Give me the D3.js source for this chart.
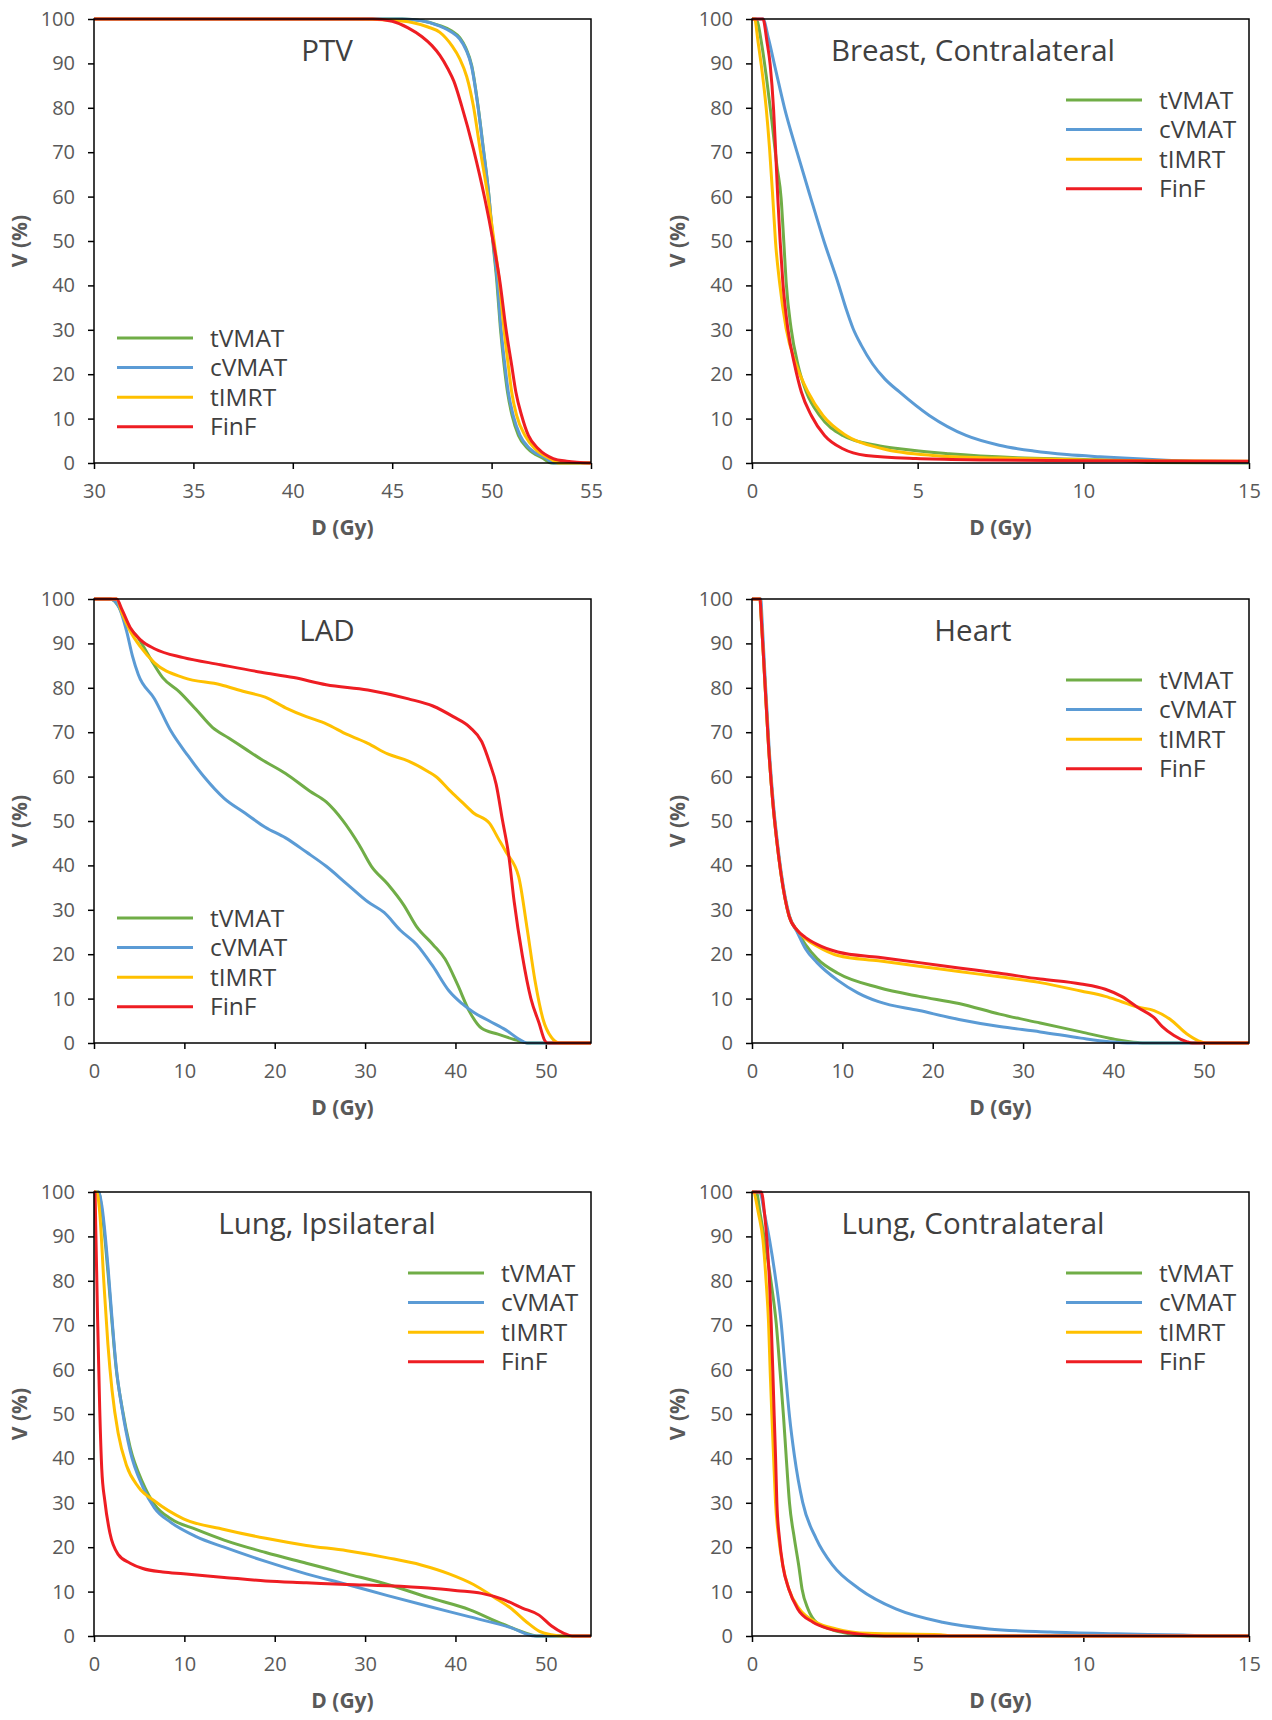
<!DOCTYPE html>
<html>
<head>
<meta charset="utf-8">
<script src="https://cdn.jsdelivr.net/npm/d3@7"></script>
<style>
  body { margin: 0; background: #fff; }
  svg { display: block; font-family: "Open Sans", sans-serif; }
</style>
</head>
<body>
<svg id="chart" width="1272" height="1720"></svg>
<script>
// series names + colours (excel defaults)
const seriesNames = ['tVMAT', 'cVMAT', 'tIMRT', 'FinF'];
const seriesColors = ['#70ad47', '#5b9bd5', '#ffc000', '#ee1d23'];

const yTicks = [0, 10, 20, 30, 40, 50, 60, 70, 80, 90, 100];
const xTicksPTV = [30, 35, 40, 45, 50, 55];
const xTicksWide = [0, 10, 20, 30, 40, 50];
const xTicksNarrow = [0, 5, 10, 15];

// DVH points: [dose Gy, volume %]
const ptvTVMAT = [[30,100],[45.5,100],[46.5,99.6],[47.4,98.5],[48.0,97.3],[48.4,95.8],[48.7,93.5],[49.0,89.5],[49.33,80],[49.58,71],[49.87,60],[50.06,50],[50.26,41],[50.44,30.5],[50.63,22],[50.8,16],[51.03,10.7],[51.35,6.2],[51.83,3.2],[52.6,1],[53,0],[55,0]];
const ptvCVMAT = [[30,100],[45.5,100],[46.5,99.6],[47.4,98.4],[48.0,97],[48.4,95.5],[48.72,93],[48.99,89.4],[49.33,79.8],[49.58,70.8],[49.88,59.5],[50.08,49.8],[50.29,40.8],[50.47,30.3],[50.67,22],[50.84,16],[51.09,10.7],[51.43,6.2],[51.93,3.2],[52.77,1],[53.1,0],[55,0]];
const ptvTIMRT = [[30,100],[43,100],[45,99.7],[46,99.2],[46.8,98.2],[47.4,97],[48.0,94],[48.4,91],[48.75,87],[49.08,80.5],[49.41,71],[49.83,59.5],[50.13,49.8],[50.39,40.8],[50.62,30.3],[50.84,22],[51.01,16],[51.26,10.7],[51.68,6.2],[52.18,3.2],[52.94,1],[53.4,0],[55,0]];
const ptvFinF = [[30,100],[44,100],[45,99.5],[45.8,98],[46.5,96],[47.0,94],[47.4,91.8],[47.8,88.8],[48.1,86],[48.49,80.5],[49.08,70.8],[49.66,59.5],[50.08,49.8],[50.42,40.8],[50.72,30.3],[51.01,22],[51.22,16],[51.51,10.7],[51.85,6.2],[52.35,3.2],[53.1,1],[53.78,0.4],[55,0]];

const breastTVMAT = [[0,100],[0.12,100],[0.3,94],[0.45,86],[0.6,77],[0.75,67],[0.88,59.5],[0.96,49.8],[1.03,40.8],[1.18,30.3],[1.39,22],[1.64,16],[2.04,10.7],[2.74,6.2],[3.75,4],[4.45,3.2],[5.95,2.1],[8,1.2],[10,0.8],[11.5,0.4],[12,0.1],[15,0]];
const breastCVMAT = [[0,100],[0.33,100],[0.5,95.5],[0.7,89],[0.98,80],[1.36,70],[1.76,60],[2.17,50],[2.6,40.5],[2.85,34.5],[3.05,30.3],[3.3,26.5],[3.64,22.3],[4.0,19],[4.45,16],[5.35,10.7],[6.46,6.2],[7.46,4],[8.5,2.7],[9.5,1.9],[10.5,1.4],[11.5,1],[12.5,0.6],[13.5,0.3],[15,0.1]];
const breastTIMRT = [[0,100],[0.08,100],[0.18,95],[0.28,89.6],[0.43,79.8],[0.53,70.8],[0.63,59.5],[0.71,49.8],[0.83,40.8],[1.03,30.3],[1.34,22],[1.69,16],[2.14,10.7],[2.84,6.2],[3.95,3.2],[5.45,1.7],[7.5,1.1],[10,0.7],[12,0.5],[15,0.4]];
const breastFinF = [[0,100],[0.33,100],[0.45,95],[0.55,89.6],[0.65,79.8],[0.71,70.8],[0.78,59.5],[0.85,49.8],[0.93,40.8],[1.08,30.3],[1.29,22],[1.49,16],[1.79,10.7],[2.19,6.2],[2.74,3.2],[3.44,1.7],[4.95,1],[7,0.7],[10,0.5],[15,0.4]];

const ladTVMAT = [[0,100],[1.8,100],[2.7,98.4],[3.6,94.4],[4.9,91.2],[6.3,86.4],[7.6,82.3],[9.45,79.1],[11.3,75.1],[13.1,71.1],[14.9,68.7],[16.7,66.3],[18.5,63.9],[21.2,60.7],[23.9,56.7],[25.7,54.3],[27.5,50.2],[29.35,44.6],[30.7,39.8],[32.5,35.8],[34.3,31],[35.7,26.2],[37.5,22.2],[38.85,18.9],[40.2,13.3],[41.6,6.9],[42.9,3.3],[44.7,2],[46.5,0.8],[47.5,0.2],[48,0],[55,0]];
const ladCVMAT = [[0,100],[1.8,100],[2.7,98.4],[3.6,92.8],[4.25,87.2],[4.9,83],[6.7,77.5],[8.5,70.3],[10.4,64.7],[12.2,59.9],[14.4,55.1],[16.7,51.8],[18.95,48.6],[21.2,46.2],[23.5,43],[25.7,39.8],[28,35.8],[30.3,31.8],[32.1,29.4],[33.9,25.4],[35.7,22.2],[37.5,17.3],[39.3,11.7],[40.7,8.9],[42,6.9],[43.8,4.9],[45.6,2.9],[47,0.9],[47.9,0],[55,0]];
const ladTIMRT = [[0,100],[2.5,100],[3.1,96.8],[4,92.8],[5.15,89.2],[6.7,85.6],[9.9,82.3],[14,80.7],[16.7,79.1],[18.95,77.9],[21.2,75.5],[23.5,73.5],[25.7,71.9],[28,69.5],[30.3,67.5],[32.5,65.1],[34.8,63.5],[37,61.1],[37.9,59.9],[39.3,57],[40.7,54.3],[42,51.8],[43.8,49.4],[44.7,46.2],[45.6,43],[47,37.4],[47.9,26.2],[48.8,14.1],[49.7,5.3],[50.6,1.3],[51.5,0],[55,0]];
const ladFinF = [[0,100],[2.5,100],[3.1,97.6],[4,93.6],[5.15,90.8],[6.7,88.8],[9.9,86.8],[14,85.2],[18.5,83.5],[22.1,82.3],[25.7,80.7],[30.3,79.5],[34.8,77.5],[37.5,75.9],[39.75,73.5],[41.6,71.1],[42.9,67.9],[43.8,63],[44.5,58.3],[45.2,50.2],[45.9,42.2],[46.5,31.8],[47.4,19.7],[48.35,10],[49.25,4.5],[49.9,0.5],[50.2,0],[55,0]];

const heartTVMAT = [[0,100],[0.9,100],[0.95,98.4],[1.4,82.3],[1.85,66.3],[2.3,54.3],[2.75,45.4],[3.2,38.2],[3.65,32.6],[4.1,28.6],[5.0,25.2],[5.9,22.2],[7.2,19],[9.5,15.7],[14,12.5],[18.5,10.5],[22.9,8.9],[27.4,6.5],[31.9,4.5],[36.4,2.5],[40,0.9],[42.7,0.1],[43.5,0],[55,0]];
const heartCVMAT = [[0,100],[1.0,100],[1.05,98],[1.45,82.3],[1.9,66.3],[2.35,54.3],[2.8,45.4],[3.25,38.2],[3.7,32.6],[4.15,28.6],[5.0,25],[5.9,21.3],[7.2,18.1],[9.5,14.1],[11.7,11.3],[14,9.3],[18.5,7.3],[22.9,5.3],[27.4,3.7],[31.9,2.5],[36.4,1.1],[39.5,0.3],[42,0],[55,0]];
const heartTIMRT = [[0,100],[0.9,100],[0.95,98.4],[1.4,82.3],[1.85,66.3],[2.3,54.3],[2.75,45.4],[3.2,38.2],[3.65,32.6],[4.1,28.6],[5.0,25.4],[5.9,23.5],[7.2,21.8],[9.5,19.7],[14,18.5],[18.5,17.3],[22.9,16.1],[27.4,14.9],[31.9,13.6],[36.4,11.7],[39.1,10.5],[40.9,9.3],[42.7,8.1],[44.5,7.3],[46.3,5.3],[48.1,2.1],[49.4,0.5],[50.2,0],[55,0]];
const heartFinF = [[0,100],[0.9,100],[0.95,98.4],[1.4,82.3],[1.85,66.3],[2.3,54.3],[2.75,45.4],[3.2,38.2],[3.65,32.6],[4.1,28.6],[5.0,25.4],[5.9,23.8],[7.2,22.2],[9.5,20.5],[14,19.3],[18.5,18.1],[22.9,16.9],[27.4,15.7],[31.9,14.4],[36.4,13.3],[39.1,12.1],[40.9,10.5],[42.7,8],[44.5,5.7],[45.4,3.7],[46.7,1.7],[48.1,0.3],[48.7,0],[55,0]];

const lungIpsiTVMAT = [[0,100],[0.5,100],[0.86,96],[1.54,82],[2,70.5],[2.44,60.5],[3.1,51.5],[4.0,42.5],[5.4,34.5],[6.7,29.6],[8.5,26.4],[11.3,24],[14.4,21.6],[19,18.8],[23.5,16.4],[28,14],[32.5,11.6],[37,8.7],[41.6,5.9],[45.2,2.7],[48.35,0.3],[49,0],[55,0]];
const lungIpsiCVMAT = [[0,100],[0.5,100],[0.86,97],[1.54,83.4],[2,71.3],[2.44,60.9],[3.1,51.3],[4.0,41.7],[5.4,33.6],[6.7,28.8],[8.5,25.6],[11.3,22.4],[14.4,20],[19,16.8],[23.5,14],[28,11.6],[32.5,9.1],[37,6.7],[41.6,4.3],[46.1,1.9],[48.8,0],[55,0]];
const lungIpsiTIMRT = [[0,100],[0.3,100],[0.63,95.4],[1.1,79.4],[1.54,65.7],[2,55.3],[2.67,45.7],[3.6,38.4],[4.9,33.6],[6.7,30.4],[9.9,26.4],[14.4,24],[19,22],[23.5,20.4],[28,19.2],[32.5,17.6],[36.2,16],[39.3,14],[42,11.6],[44.3,8.7],[46.1,6.3],[47.9,3.1],[49.25,1.1],[50.6,0.3],[52,0],[55,0]];
const lungIpsiFinF = [[0,100],[0.1,100],[0.2,91.4],[0.4,71.3],[0.63,51.3],[0.86,37.6],[1.2,30.4],[1.76,23.2],[2.67,18.4],[4.0,16.4],[5.4,15.2],[7.6,14.4],[9.9,14],[14.4,13.2],[19,12.4],[23.5,12],[28,11.6],[32.5,11.3],[37,10.8],[40.2,10.2],[42.9,9.6],[45.2,8.3],[47.4,6.3],[49.25,4.7],[50.6,2.3],[52,0.6],[52.9,0],[55,0]];

const lungContraTVMAT = [[0,100],[0.13,100],[0.25,95],[0.38,89.2],[0.58,79.5],[0.73,70.5],[0.85,59.3],[0.95,49.6],[1.03,40.6],[1.13,30.1],[1.28,21.9],[1.41,15.9],[1.51,10.6],[1.69,6.1],[1.94,3.1],[2.34,1.6],[2.94,0.5],[3.5,0],[15,0]];
const lungContraCVMAT = [[0,100],[0.23,100],[0.38,95],[0.53,89.2],[0.73,79.5],[0.88,70.5],[1.01,59.3],[1.13,49.6],[1.28,40.6],[1.53,30.1],[1.94,21.9],[2.44,15.9],[3.24,10.6],[4.34,6.1],[5.75,3.1],[7.15,1.6],[9,0.9],[11,0.5],[13,0.2],[14,0],[15,0]];
const lungContraTIMRT = [[0,100],[0.03,100],[0.2,95],[0.33,89.2],[0.43,79.5],[0.5,70.5],[0.55,59.3],[0.6,49.6],[0.65,40.6],[0.71,30.1],[0.81,21.9],[0.93,15.9],[1.11,10.6],[1.43,6.1],[1.94,3.1],[2.54,1.6],[3.5,0.6],[5.7,0.3],[6,0],[15,0]];
const lungContraFinF = [[0,100],[0.28,100],[0.38,95],[0.45,89.2],[0.53,79.5],[0.58,70.5],[0.63,59.3],[0.67,49.6],[0.71,40.6],[0.75,30.1],[0.83,21.9],[0.93,15.9],[1.11,10.6],[1.38,6.1],[1.84,3.1],[2.34,1.6],[3.14,0.5],[4,0],[15,0]];

const svg = d3.select('#chart');
const plotW = 497, plotH = 444;

const panels = [
  { title: 'PTV', left: 94, top: 19, xDomain: [30, 55], xTicks: xTicksPTV, titleDx: 233, legend: 'bottomLeft',
    series: [ptvTVMAT, ptvCVMAT, ptvTIMRT, ptvFinF] },
  { title: 'Breast, Contralateral', left: 752, top: 19, xDomain: [0, 15], xTicks: xTicksNarrow, titleDx: 221, legend: 'topRight',
    series: [breastTVMAT, breastCVMAT, breastTIMRT, breastFinF] },
  { title: 'LAD', left: 94, top: 599, xDomain: [0, 55], xTicks: xTicksWide, titleDx: 233, legend: 'bottomLeft',
    series: [ladTVMAT, ladCVMAT, ladTIMRT, ladFinF] },
  { title: 'Heart', left: 752, top: 599, xDomain: [0, 55], xTicks: xTicksWide, titleDx: 221, legend: 'topRight',
    series: [heartTVMAT, heartCVMAT, heartTIMRT, heartFinF] },
  { title: 'Lung, Ipsilateral', left: 94, top: 1192, xDomain: [0, 55], xTicks: xTicksWide, titleDx: 233, legend: 'topRight',
    series: [lungIpsiTVMAT, lungIpsiCVMAT, lungIpsiTIMRT, lungIpsiFinF] },
  { title: 'Lung, Contralateral', left: 752, top: 1192, xDomain: [0, 15], xTicks: xTicksNarrow, titleDx: 221, legend: 'topRight',
    series: [lungContraTVMAT, lungContraCVMAT, lungContraTIMRT, lungContraFinF] }
];

panels.forEach(drawPanel);

function drawPanel(p) {
  const g = svg.append('g').attr('transform', `translate(${p.left},${p.top})`);

  const x = d3.scaleLinear().domain(p.xDomain).range([0, plotW]);
  const y = d3.scaleLinear().domain([0, 100]).range([plotH, 0]);

  // axes
  const yAxis = g.append('g')
    .call(d3.axisLeft(y).tickValues(yTicks).tickSize(6).tickPadding(13).tickSizeOuter(0));
  const xAxis = g.append('g')
    .attr('transform', `translate(0,${plotH})`)
    .call(d3.axisBottom(x).tickValues(p.xTicks).tickSize(6).tickPadding(15).tickSizeOuter(0));

  [xAxis, yAxis].forEach(a => {
    a.select('.domain').remove();
    a.selectAll('line').attr('stroke', '#000').attr('stroke-width', 1.5);
    a.selectAll('text').attr('fill', '#595959').style('font-size', '20px').style('font-family', '"Open Sans", sans-serif');
  });

  // lines
  const line = d3.line()
    .x(d => x(d[0]))
    .y(d => y(d[1]))
    .curve(d3.curveMonotoneX);

  p.series.forEach((s, i) => {
    g.append('path')
      .datum(s)
      .attr('fill', 'none')
      .attr('stroke', seriesColors[i])
      .attr('stroke-width', 3)
      .attr('stroke-linejoin', 'round')
      .attr('d', line);
  });

  // frame
  g.append('rect')
    .attr('width', plotW).attr('height', plotH)
    .attr('fill', 'none').attr('stroke', '#000').attr('stroke-width', 1.5);

  // title
  g.append('text')
    .attr('x', p.titleDx).attr('y', 32)
    .attr('dy', '0.35em')
    .attr('text-anchor', 'middle')
    .attr('fill', '#404040')
    .style('font-size', '29.5px')
    .text(p.title);

  // axis titles
  g.append('text')
    .attr('transform', `translate(${-74},${plotH / 2}) rotate(-90)`)
    .attr('dy', '0.35em')
    .attr('text-anchor', 'middle')
    .attr('fill', '#595959')
    .style('font-size', '21px').style('font-weight', 'bold')
    .text('V (%)');

  g.append('text')
    .attr('x', plotW / 2).attr('y', plotH + 65)
    .attr('dy', '0.35em')
    .attr('text-anchor', 'middle')
    .attr('fill', '#595959')
    .style('font-size', '21px').style('font-weight', 'bold')
    .text('D (Gy)');

  // legend
  const lx = p.legend === 'bottomLeft' ? 23 : 314;
  const ly = p.legend === 'bottomLeft' ? plotH - 125 : 81;
  const legend = g.append('g').attr('transform', `translate(${lx},${ly})`);
  seriesNames.forEach((name, i) => {
    const row = legend.append('g').attr('transform', `translate(0,${i * 29.6})`);
    row.append('line')
      .attr('x1', 0).attr('x2', 76)
      .attr('stroke', seriesColors[i]).attr('stroke-width', 3);
    row.append('text')
      .attr('x', 93).attr('dy', '0.35em')
      .attr('fill', '#404040')
      .style('font-size', '24.5px')
      .text(name);
  });
}
</script>
</body>
</html>
